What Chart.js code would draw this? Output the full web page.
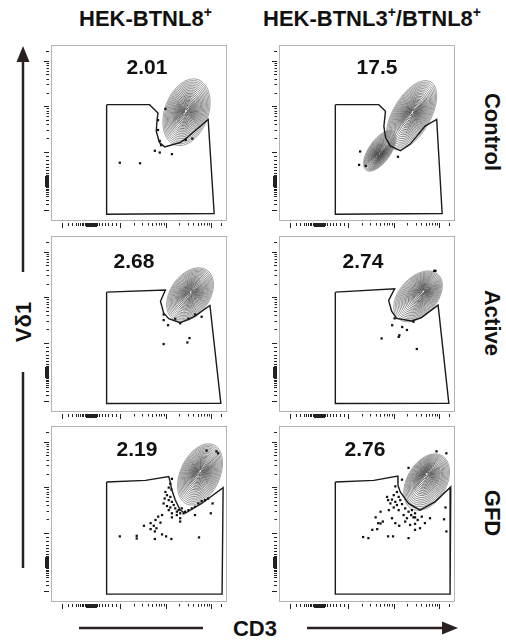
<!DOCTYPE html>
<html>
<head>
<meta charset="utf-8">
<script src="https://cdn.jsdelivr.net/npm/chart.js@4.4.1/dist/chart.umd.min.js"></script>
<style>
  html, body { margin: 0; padding: 0; background: #fff; }
  #fig { position: relative; width: 506px; height: 641px; overflow: hidden; }
  #fig canvas { position: absolute; }
  #overlay { position: absolute; left: 0; top: 0; }
  #overlay text { font-family: "Liberation Sans", Arial, Helvetica, sans-serif; font-weight: bold; fill: #111; }
</style>
</head>
<body>
<div id="fig">
  <svg id="overlay" width="506" height="641">
    <text x="79" y="26" font-size="22">HEK-BTNL8<tspan font-size="14" dy="-9">+</tspan></text>
    <text x="263" y="26" font-size="22">HEK-BTNL3<tspan font-size="14" dy="-9">+</tspan><tspan dy="9">/BTNL8</tspan><tspan font-size="14" dy="-9">+</tspan></text>
    <text font-size="22" text-anchor="middle" transform="translate(485,132) rotate(90)">Control</text>
    <text font-size="22" text-anchor="middle" transform="translate(485,323) rotate(90)">Active</text>
    <text font-size="22" text-anchor="middle" transform="translate(485,513) rotate(90)">GFD</text>
    <text font-size="22" text-anchor="middle" transform="translate(31,322) rotate(-90)">Vδ1</text>
    <text font-size="22" text-anchor="middle" x="255" y="636">CD3</text>
    <g stroke="#2a2020" stroke-width="2.5" fill="#2a2020">
      <line x1="23" y1="58" x2="23" y2="272"/>
      <line x1="23" y1="372" x2="23" y2="568"/>
      <polygon points="23,46 16.5,62 29.5,62" stroke="none"/>
      <line x1="79" y1="628" x2="203" y2="628"/>
      <line x1="307" y1="628" x2="446" y2="628"/>
      <polygon points="458,628 442,621.5 442,634.5" stroke="none"/>
    </g>
  </svg>
</div>
<script>
// channel scale 0..1000 on both axes (biexponential display)
const axisMajor = [62, 393, 652, 910];
const axisLow = [98, 122, 140, 154, 166, 176, 184, 192, 200, 205, 210, 214, 218, 222, 226, 230, 234, 238, 242, 246, 251, 256, 264, 274, 288, 304, 322, 344, 368];
const decadeStarts = [393, 652];
const axisTop = [966];

// gate % labels, row by row
const gatePct = ['2.01', '17.5', '2.68', '2.74', '2.19', '2.76'];

// gates [CD3, Vd1]
const gateCtrl8 = [[316,661],[560,661],[608,614],[603,577],[598,511],[616,446],[646,421],[734,446],[762,465],[893,577],[927,43],[316,38]];
const gateCtrl38 = [[320,661],[567,661],[605,624],[596,539],[605,474],[633,427],[690,399],[746,437],[830,539],[896,577],[927,43],[320,38]];
const gateAct8 = [[316,681],[650,693],[622,629],[640,563],[669,530],[734,507],[781,526],[818,545],[903,605],[965,49],[316,48]];
const gateAct38 = [[320,681],[657,700],[623,634],[640,573],[668,532],[753,517],[809,536],[904,607],[965,49],[320,48]];
const gateGfd8 = [[316,682],[537,691],[669,713],[675,690],[687,635],[706,579],[734,522],[762,504],[856,560],[978,650],[972,45],[316,45]];
const gateGfd38 = [[320,682],[539,691],[675,716],[676,663],[689,625],[736,560],[801,522],[886,569],[976,654],[972,45],[320,45]];

// single events
const dotsCtrl8 = [[650,637],[608,573],[608,517],[618,455],[625,431],[590,399],[618,389],[687,380],[766,461],[803,468],[391,331],[506,328]];
const dotsCtrl38 = [[461,395],[455,319],[493,313],[676,365]];
const dotsAct8 = [[640,554],[640,522],[665,493],[706,530],[734,504],[781,530],[818,554],[856,541],[640,386],[775,395],[787,420]];
const dotsAct38 = [[657,532],[643,493],[700,483],[727,466],[684,436],[680,427],[583,418],[783,358],[764,513],[882,802],[889,802]];
const dotsGfd8 = [[884,860],[940,856],[949,845],[687,700],[678,672],[669,650],[684,639],[650,625],[659,607],[678,597],[646,588],[669,579],[687,569],[640,560],[659,545],[678,537],[697,551],[706,532],[669,522],[715,513],[725,522],[687,504],[743,532],[734,504],[715,494],[753,504],[762,513],[781,522],[800,532],[818,541],[837,560],[856,573],[875,579],[893,588],[734,476],[687,481],[734,457],[631,494],[609,485],[594,466],[566,448],[528,433],[584,433],[622,451],[599,419],[566,414],[590,401],[391,373],[487,376],[487,361],[590,358],[631,384],[654,373],[684,358],[841,367],[908,504],[918,560],[818,494]];
const dotsGfd38 = [[895,856],[951,845],[736,762],[699,695],[661,657],[670,625],[652,607],[680,597],[642,582],[661,569],[689,579],[633,560],[670,551],[699,556],[652,537],[624,522],[680,522],[717,532],[736,513],[755,522],[773,504],[751,494],[708,494],[727,476],[764,481],[614,597],[620,579],[577,513],[549,481],[564,448],[530,410],[558,414],[577,446],[590,457],[642,476],[661,448],[683,433],[717,457],[745,438],[773,444],[478,369],[508,363],[620,373],[648,373],[736,363],[946,537],[938,470],[951,401],[858,476],[829,448],[788,466],[801,419],[773,410],[811,485],[773,481]];

// populations: [cx, cy, semi-major, semi-minor, tilt deg, peakX, peakY]
const popCtrl8 = [[770,618,197,124,20,766,624]];
const popCtrl38 = [[753,601,219,107,30,758,618],[573,399,135,62,35,571,380]];
const popAct8 = [[790,667,169,112,35,794,681]];
const popAct38 = [[790,657,169,107,42,820,685]];
const popGfd8 = [[847,725,185,112,25,847,743]];
const popGfd38 = [[839,681,174,112,30,839,729]];

// relative size of each contour ring, outermost first
const contourLevels = [1, 0.95, 0.9, 0.85, 0.8, 0.75, 0.7, 0.65, 0.6, 0.555, 0.51, 0.465, 0.42, 0.38, 0.34, 0.3, 0.26, 0.22, 0.18, 0.14, 0.1, 0.06];

const panels = [
  { gate: gateCtrl8, dots: dotsCtrl8, pops: popCtrl8 },
  { gate: gateCtrl38, dots: dotsCtrl38, pops: popCtrl38 },
  { gate: gateAct8, dots: dotsAct8, pops: popAct8 },
  { gate: gateAct38, dots: dotsAct38, pops: popAct38 },
  { gate: gateGfd8, dots: dotsGfd8, pops: popGfd8 },
  { gate: gateGfd38, dots: dotsGfd38, pops: popGfd38 }
];

// layout
const colLeft = [51, 279];
const rowTop = [43, 234, 424];
const boxSize = 178;
const pad = { left: 10, top: 2, right: 2, bottom: 10 };
const labelPos = [[96, 29], [98, 29], [83, 32], [84, 32], [86, 30], [86, 30]];

// tick list: [value, length]
const tickList = [];
axisMajor.forEach(v => tickList.push([v, 5]));
axisLow.forEach(v => tickList.push([v, v > 198 && v < 258 ? 4 : 3]));
decadeStarts.forEach(s => {
  for (let k = 2; k <= 9; k++) tickList.push([s + 259 * Math.log10(k), k === 5 ? 3 : 2.5]);
});
axisTop.forEach(v => tickList.push([v, 3]));

const toXY = arr => arr.map(p => ({ x: p[0], y: p[1] }));

const flowPlot = {
  id: 'flowPlot',
  beforeDatasetsDraw(chart, args, opts) {
    const { ctx, chartArea: a, scales: { x, y } } = chart;
    ctx.save();
    ctx.beginPath();
    ctx.rect(a.left, a.top, a.right - a.left, a.bottom - a.top);
    ctx.clip();
    ctx.lineWidth = 0.8;
    opts.pops.forEach(p => {
      const [cx, cy, ra, rb, tilt, pkx, pky] = p;
      const n = contourLevels.length;
      contourLevels.forEach((s, i) => {
        const mx = pkx + (cx - pkx) * s;
        const my = pky + (cy - pky) * s;
        const px = x.getPixelForValue(mx);
        const py = y.getPixelForValue(my);
        const rA = x.getPixelForValue(mx + ra * s) - px;
        const rB = x.getPixelForValue(mx + rb * s) - px;
        const g = Math.round(140 - 100 * i / (n - 1));
        ctx.strokeStyle = `rgb(${g},${g},${g})`;
        ctx.beginPath();
        ctx.ellipse(px, py, rB, rA, tilt * Math.PI / 180, 0, Math.PI * 2);
        ctx.stroke();
      });
    });
    ctx.restore();
  },
  afterDraw(chart, args, opts) {
    const { ctx, chartArea: a, scales: { x, y } } = chart;
    ctx.save();
    ctx.strokeStyle = '#b4b4b4';
    ctx.lineWidth = 1;
    ctx.strokeRect(a.left + 0.5, a.top + 0.5, a.right - a.left - 1, a.bottom - a.top - 1);

    ctx.strokeStyle = '#222';
    ctx.beginPath();
    tickList.forEach(([v, len]) => {
      const tx = Math.round(x.getPixelForValue(v)) + 0.5;
      ctx.moveTo(tx, a.bottom + 2);
      ctx.lineTo(tx, a.bottom + 2 + len);
      const ty = Math.round(y.getPixelForValue(v)) + 0.5;
      ctx.moveTo(a.left - 2, ty);
      ctx.lineTo(a.left - 2 - len, ty);
    });
    ctx.stroke();

    ctx.fillStyle = '#111';
    ctx.font = 'bold 21px "Liberation Sans", Arial, sans-serif';
    ctx.textAlign = 'center';
    ctx.textBaseline = 'alphabetic';
    ctx.fillText(opts.label, a.left + opts.pos[0], a.top + opts.pos[1]);
    ctx.restore();
  }
};

const fig = document.getElementById('fig');

panels.forEach((p, i) => {
  const col = i % 2, row = Math.floor(i / 2);
  const cv = document.createElement('canvas');
  cv.width = pad.left + boxSize + pad.right;
  cv.height = pad.top + boxSize + pad.bottom;
  cv.style.left = (colLeft[col] - pad.left) + 'px';
  cv.style.top = (rowTop[row] - pad.top) + 'px';
  fig.appendChild(cv);

  const gatePts = toXY(p.gate.concat([p.gate[0]]));

  new Chart(cv.getContext('2d'), {
    type: 'scatter',
    data: {
      datasets: [
        {
          data: gatePts,
          showLine: true,
          borderColor: '#1b1b1b',
          borderWidth: 1.4,
          pointRadius: 0,
          tension: 0
        },
        {
          data: toXY(p.dots),
          pointStyle: 'rect',
          pointRadius: 1.6,
          backgroundColor: '#111',
          borderWidth: 0
        }
      ]
    },
    options: {
      responsive: false,
      animation: false,
      events: [],
      layout: { padding: pad },
      scales: {
        x: { type: 'linear', min: 0, max: 1000, display: false },
        y: { type: 'linear', min: 0, max: 1000, display: false }
      },
      plugins: {
        legend: { display: false },
        tooltip: { enabled: false },
        flowPlot: { pops: p.pops, label: gatePct[i], pos: labelPos[i] }
      }
    },
    plugins: [flowPlot]
  });
});
</script>
</body>
</html>
